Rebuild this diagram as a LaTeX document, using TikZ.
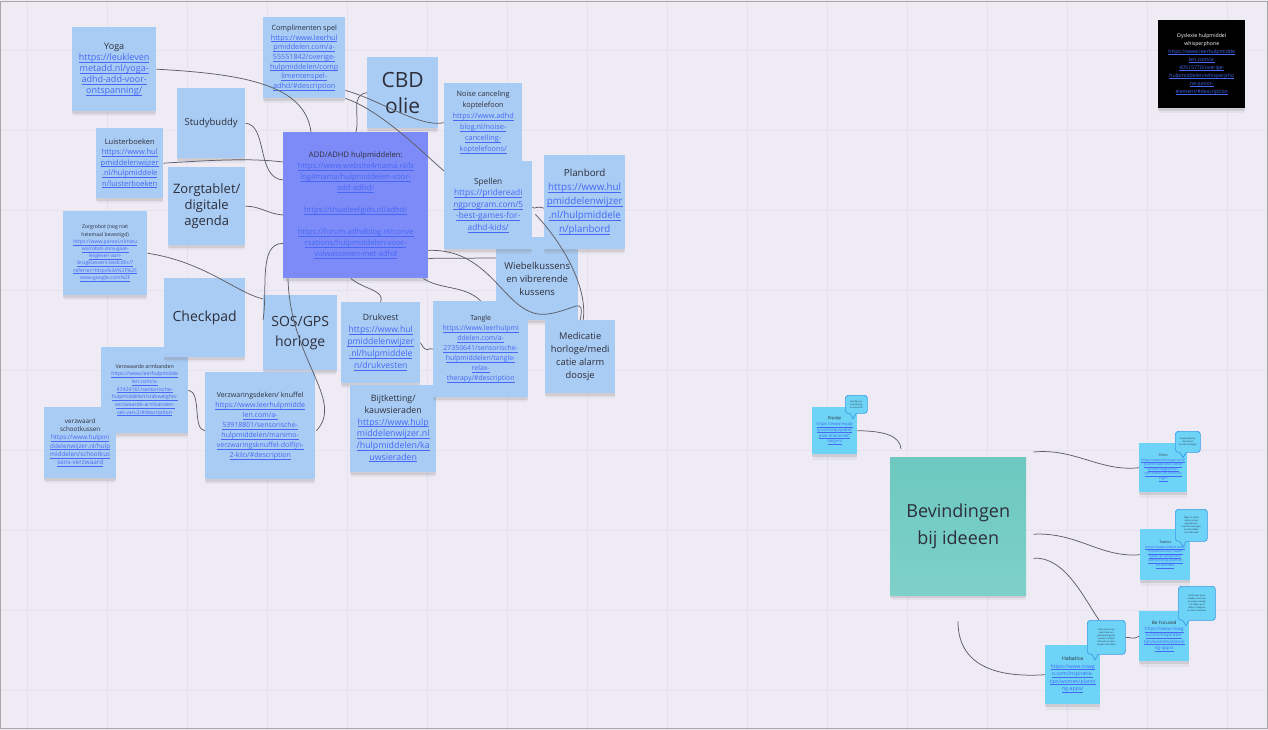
\documentclass[tikz,border=0pt]{standalone}
\usepackage{fontspec}
\setmainfont{Open Sans}
\usetikzlibrary{calc,shadows}
\definecolor{bgc}{HTML}{EEEBF5}
\definecolor{gridc}{HTML}{E5E1EE}
\definecolor{notec}{HTML}{A8CCF4}
\definecolor{violetc}{HTML}{7C8BF8}
\definecolor{tealc}{HTML}{6CC8C0}
\definecolor{tealb}{HTML}{7ED1C9}
\definecolor{cyanc}{HTML}{6DD4F7}
\definecolor{bubc}{HTML}{3C9AE6}
\definecolor{linkc}{HTML}{4668F5}
\definecolor{txtc}{HTML}{2E2E3A}
\definecolor{connc}{HTML}{5E5E66}
\newcommand\lnk[1]{\textcolor{linkc}{\underline{\smash{#1}}}}
\tikzset{
  note/.style={anchor=north west, inner sep=1pt, align=center, fill=notec, text=txtc,
    drop shadow={shadow xshift=0pt, shadow yshift=-3pt, opacity=.2},
    drop shadow={shadow xshift=0pt, shadow yshift=-6pt, opacity=.1, shadow scale=.98}},
  minisize/.style 2 args={minimum width=#1pt, minimum height=#2pt},
  fs/.style 2 args={font=\fontsize{#1}{#2}\selectfont},
  bubble/.style={anchor=north west, inner sep=1pt, align=center, fill=cyanc, draw=bubc,
    line width=0.7pt, rounded corners=3pt, text=txtc},
  conn/.style={draw=connc, line width=0.75pt},
}
\begin{document}
\begin{tikzpicture}[x=1pt,y=-1pt]
\useasboundingbox (0,0) rectangle (1268,730);
% board background and faint grid
\fill[bgc] (0,0) rectangle (1268,730);
\foreach \gx in {27,107,...,1267} \draw[gridc, line width=0.5pt] (\gx,0) -- (\gx,730);
\foreach \gy in {50,130,...,730} \draw[gridc, line width=0.5pt] (0,\gy) -- (1268,\gy);
\draw[gray!70, line width=1pt] (0.5,1.5) rectangle (1267.5,728.5);

% ---------- ADHD aids cluster ----------
\node[note, minisize={84}{84}, fs={9}{11}] (yoga) at (72,27) {Yoga\\
  \lnk{https://leukleven}\\\lnk{metadd.nl/yoga-}\\\lnk{adhd-add-voor-}\\\lnk{ontspanning/}};
\node[note, minisize={82}{81}, fs={7.2}{9.7}] (compl) at (263,17) {Complimenten spel\\
  \lnk{https://www.leerhul}\\\lnk{pmiddelen.com/a-}\\\lnk{55551842/overige-}\\\lnk{hulpmiddelen/comp}\\\lnk{limentenspel-}\\\lnk{adhd/\#description}};
\node[note, minisize={71}{71}, fs={21}{26}] (cbd) at (367,57) {CBD\\olie};
\node[note, minisize={68}{70}, fs={9.5}{12}] (study) at (177,88) {Studybuddy};
\node[note, minisize={78}{79}, fs={7.3}{11}] (noise) at (444,83) {Noise canceling\\koptelefoon\\
  \lnk{https://www.adhd}\\\lnk{blog.nl/noise-}\\\lnk{cancelling-}\\\lnk{koptelefoons/}};
\node[note, minisize={67}{70}, fs={7.5}{10.5}] (luister) at (96,128) {Luisterboeken\\
  \lnk{https://www.hul}\\\lnk{pmiddelenwijzer}\\\lnk{.nl/hulpmiddele}\\\lnk{n/luisterboeken}};
\node[note, minisize={145}{146}, fill=violetc, fs={7.6}{11}] (add) at (283,132) {ADD/ADHD hulpmiddelen:\\
  \lnk{https://www.website4mama.nl/b}\\\lnk{log4mama/hulpmiddelen-voor-}\\\lnk{add-adhd/}\\[11pt]
  \lnk{https://thuisleefgids.nl/adhd/}\\[11pt]
  \lnk{https://forum.adhdblog.nl/conve}\\\lnk{rsations/hulpmiddelen-voor-}\\\lnk{volwassenen-met-adhd}};
\node[note, minisize={77}{78}, fs={13}{16}] (zorgtab) at (168,167) {Zorgtablet/\\digitale\\agenda};
\node[note, minisize={82}{83}, fs={9.5}{13}] (wiebel) at (496,237) {Wiebelkussens\\en vibrerende\\kussens};
\node[note, minisize={88}{88}, fs={8.3}{11.5}] (spellen) at (444,161) {Spellen\\
  \lnk{https://pridereadi}\\\lnk{ngprogram.com/5}\\\lnk{-best-games-for-}\\\lnk{adhd-kids/}};
\node[note, minisize={81}{94}, fs={9.8}{14}] (planbord) at (544,155) {Planbord\\
  \lnk{https://www.hul}\\\lnk{pmiddelenwijzer}\\\lnk{.nl/hulpmiddele}\\\lnk{n/planbord}};
\node[note, minisize={84}{84}, fs={5.1}{7.2}] (zorgrobot) at (63,211) {Zorgrobot (nog niet\\helemaal bevestigd)\\
  \lnk{https://www.parool.nl/nieu}\\\lnk{ws/robot-zora-gaat-}\\\lnk{lesgeven-aan-}\\\lnk{brugklassers-bedcd5c/?}\\\lnk{referrer=https\%3A\%2F\%2F}\\\lnk{www.google.com\%2F}};
\node[note, minisize={87}{86}, fs={5.2}{7.7}] (armband) at (101,347) {Verzwaarde armbanden\\
  \lnk{https://www.leerhulpmidde}\\\lnk{len.com/a-}\\\lnk{47424161/sensorische-}\\\lnk{hulpmiddelen/stabweights-}\\\lnk{verzwaarde-armbanden-}\\\lnk{set-van-2/\#description}};
\node[note, minisize={81}{79}, fs={14}{17}] (checkpad) at (164,278) {Checkpad};
\node[note, minisize={74}{75}, fs={14}{20}] (sos) at (263,295) {SOS/GPS\\horloge};
\node[note, minisize={79}{81}, fs={8.6}{12}] (drukvest) at (341,302) {Drukvest\\
  \lnk{https://www.hul}\\\lnk{pmiddelenwijzer}\\\lnk{.nl/hulpmiddele}\\\lnk{n/drukvesten}};
\node[note, minisize={86}{87}, fs={8.8}{11.7}] (bijt) at (350,385) {Bijtketting/\\kauwsieraden\\
  \lnk{https://www.hulp}\\\lnk{middelenwijzer.nl}\\\lnk{/hulpmiddelen/ka}\\\lnk{uwsieraden}};
\node[note, minisize={95}{96}, fs={6.9}{10}] (tangle) at (433,301) {Tangle\\
  \lnk{https://www.leerhulpmi}\\\lnk{ddelen.com/a-}\\\lnk{27350641/sensorische-}\\\lnk{hulpmiddelen/tangle-}\\\lnk{relax-}\\\lnk{therapy/\#description}};
\node[note, minisize={70}{73}, fs={9.3}{13}] (medic) at (545,320) {Medicatie\\horloge/medi\\catie alarm\\doosje};
\node[note, minisize={110}{107}, fs={7}{10}] (deken) at (205,372) {Verzwaringsdeken/ knuffel\\
  \lnk{https://www.leerhulpmidde}\\\lnk{len.com/a-}\\\lnk{53918801/sensorische-}\\\lnk{hulpmiddelen/manimo-}\\\lnk{verzwaringsknuffel-dolfijn-}\\\lnk{2-kilo/\#description}};
\node[note, minisize={72}{71}, fs={6.3}{8.3}] (schoot) at (44,407) {verzwaard\\schootkussen\\
  \lnk{https://www.hulpmi}\\\lnk{ddelenwijzer.nl/hulp}\\\lnk{middelen/schootkus}\\\lnk{sens-verzwaard}};
\node[note, minisize={87}{88}, fill=black, text=white, fs={5.2}{8}] (dyslexie) at (1158,20) {Dyslexie hulpmiddel\\whisperphone\\
  \lnk{https://www.leerhulpmidde}\\\lnk{len.com/a-}\\\lnk{40515770/overige-}\\\lnk{hulpmiddelen/whisperpho}\\\lnk{ne-junior-}\\\lnk{element/\#description}};

% connectors of the cluster
\draw[conn] (yoga.east) .. controls (245,74) and (305,85) .. ($(add.north west)+(28,0)$);
\draw[conn] (cbd.west) .. controls (350,95) and (360,115) .. ($(add.north west)+(73,0)$);
\draw[conn] ($(compl.south east)+(0,-8)$) .. controls (380,100) and (420,128) .. (noise.west);
\draw[conn] (compl.south east) .. controls (380,110) and (420,150) .. ($(spellen.north west)+(0,10)$);
\draw[conn] (study.east) .. controls (268,125) and (256,178) .. ($(add.north west)+(0,48)$);
\draw[conn] (luister.east) .. controls (215,160) and (250,158) .. ($(add.north west)+(0,30)$);
\draw[conn] (zorgtab.east) .. controls (260,206) and (268,214) .. ($(add.north west)+(0,83)$);
\draw[conn] (zorgrobot.east) .. controls (205,262) and (235,292) .. ($(sos.north west)+(0,4)$);
\draw[conn] ($(add.south west)+(0,-35)$) .. controls (258,243) and (268,290) .. ($(sos.north west)+(0,25)$);
\draw[conn] ($(add.south west)+(5,0)$) .. controls (290,360) and (345,400) .. ($(deken.east)+(1,5)$);
\draw[conn] (armband.east) .. controls (202,392) and (192,430) .. ($(deken.west)+(0,5)$);
\draw[conn] ($(add.south)+(-5,0)$) .. controls (365,290) and (385,290) .. (drukvest.north);
\draw[conn] ($(add.south east)+(-5,0)$) .. controls (440,290) and (465,285) .. ($(tangle.north)+(0,0)$);
\draw[conn] (drukvest.east) .. controls (428,356) and (428,346) .. (tangle.west);
\draw[conn] ($(add.south east)+(0,-20)$) -- ($(wiebel.north west)+(0,21)$);
\draw[conn] ($(add.south east)+(0,-28)$) .. controls (495,248) and (505,320) .. (548,314)
  .. controls (575,310) and (585,295) .. (medic.north);
\draw[conn] ($(spellen.south east)+(3,-35)$) .. controls (560,240) and (588,285) .. ($(medic.north)+(3,0)$);
\draw[conn] ($(planbord.west)+(0,6)$) .. controls (538,205) and (534,210) .. ($(spellen.east)+(0,2)$);

% ---------- findings cluster ----------
\node[note, minisize={136}{138}, top color=tealc, bottom color=tealb, fs={18}{27}] (bevind) at (890,457) {Bevindingen\\bij ideeen};

\node[note, minisize={45}{47}, fill=cyanc, fs={4.2}{5.8}] (equipy) at (812,407) {Equipy\\
  \lnk{https://www.equip}\\\lnk{ty.com/equipable/}\\\lnk{plan-interactief?}\\\lnk{lang=nl}};
\node[bubble, minisize={22}{18}, fs={2.2}{3}] (eqbub) at (845,395) {Handig voor\\de planning\\en overzicht};
\node[note, minisize={48}{49}, fill=cyanc, fs={3.4}{4.6}] (tiimo) at (1139,443) {Tiimo\\
  \lnk{https://www.tiimoapp.com/}\\\lnk{planner-app-voor-adhd/}\\\lnk{visuele-dagplanner-}\\\lnk{met-timers-en-herinner}\\\lnk{ingen}};
\node[bubble, minisize={25}{21}, fs={2.2}{3}] (tiimobub) at (1175,431) {Visuele planner\\met timers\\en herinneringen};
\node[note, minisize={50}{51}, fill=cyanc, fs={3.4}{4.6}] (todoist) at (1140,529) {Todoist\\
  \lnk{https://www.todoist.com/}\\\lnk{nl/planner-voor-taken}\\\lnk{lijsten-en-projecten/}\\\lnk{overzichtelijk-plannen}\\\lnk{en-afvinken}};
\node[bubble, minisize={32}{32}, fs={2.2}{3}] (todobub) at (1175,509) {Taken in lijsten\\zetten en per\\dag plannen,\\met herinneringen\\en prioriteiten\\voor elke taak};
\node[note, minisize={50}{50}, fill=cyanc, fs={4.6}{6.2}] (befocused) at (1139,611) {Be Focused\\
  \lnk{https://www.nowg}\\\lnk{o.com/inspiratie-}\\\lnk{tips/women/planni}\\\lnk{ng-apps/}};
\node[bubble, minisize={37}{34}, fs={2.2}{3}] (befbub) at (1178,586) {Werkt met korte\\blokken van focus\\en pauze, handig\\om taken op te\\delen in stappen\\en door te werken};
\node[note, minisize={55}{59}, fill=cyanc, fs={5.2}{7.5}] (habatica) at (1045,645) {Habatica\\
  \lnk{https://www.nowg}\\\lnk{o.com/inspiratie-}\\\lnk{tips/women/planni}\\\lnk{ng-apps/}};
\node[bubble, minisize={38}{34}, fs={2.2}{3}] (habbub) at (1087,620) {Plannen als een\\spel: taken en\\gewoontes geven\\punten, zo blijft\\het leuk om door\\te gaan met taken};

% speech bubble tails
\foreach \b in {eqbub,tiimobub,todobub,befbub,habbub}{
  \fill[cyanc] ($(\b.south west)+(5,-1)$) -- ($(\b.south west)+(8,5)$) -- ($(\b.south west)+(11,-1)$) -- cycle;
  \draw[bubc, line width=0.7pt] ($(\b.south west)+(5,0)$) -- ($(\b.south west)+(8,5)$) -- ($(\b.south west)+(11,0)$);
}

% connectors of the findings cluster
\coordinate (bevtop) at ($(bevind.north west)+(11,-8)$);
\draw[conn] (equipy.east) .. controls (885,431) and (900,436) .. (bevtop);
\draw[conn] ($(bevind.north east)+(7,-5)$) .. controls (1075,448) and (1100,472) .. (tiimo.west);
\draw[conn] ($(bevind.east)+(7,8)$) .. controls (1078,532) and (1100,558) .. (todoist.west);
\draw[conn] ($(bevind.east)+(7,32)$) .. controls (1065,556) and (1085,600) .. ($(habbub.north west)+(12,0)$);
\draw[conn] (habbub.east) .. controls (1130,637) and (1134,640) .. (befocused.west);
\coordinate (bevbot) at ($(bevind.south west)+(68,26)$);
\draw[conn] (bevbot) .. controls (958,665) and (995,678) .. (habatica.west);
\end{tikzpicture}
\end{document}
